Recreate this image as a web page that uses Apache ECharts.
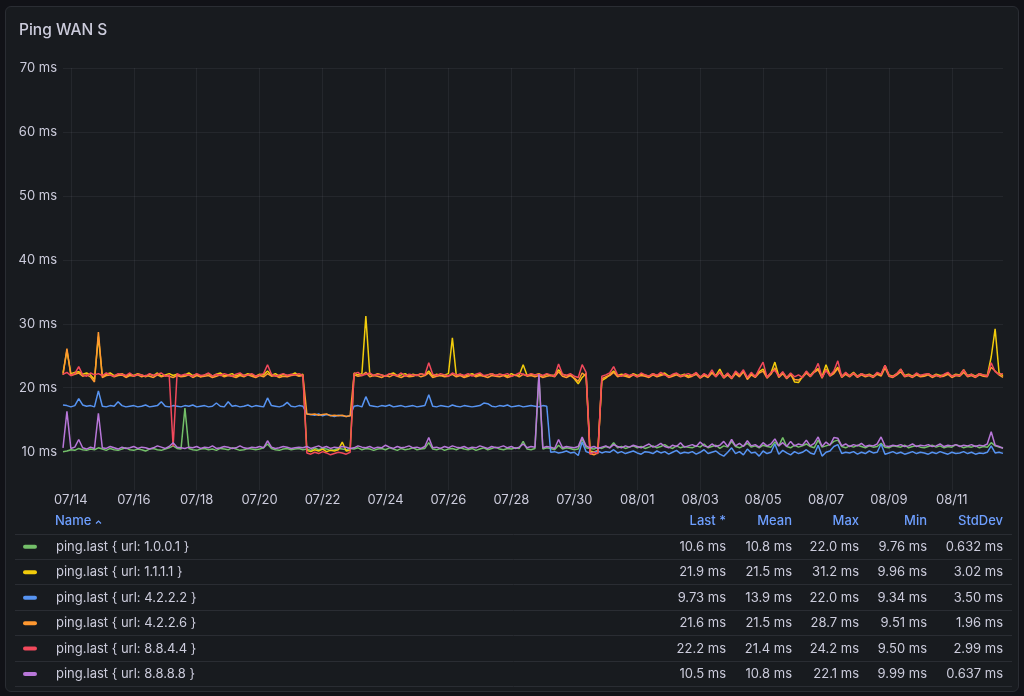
<!DOCTYPE html>
<html><head><meta charset="utf-8">
<script src="https://cdn.jsdelivr.net/npm/echarts@6/dist/echarts.min.js"></script>
<style>
html,body{margin:0;padding:0;background:#111217;width:1024px;height:696px;overflow:hidden;}
#panel{position:absolute;left:5px;top:6px;width:1012px;height:684px;background:#181b1f;border:1px solid #2a2d33;border-radius:6px;}
#chart{position:absolute;left:0;top:0;width:1024px;height:696px;}
</style></head><body><div id="panel"></div><div id="chart"></div>
<script>
// ---- data ----
const startDate = [2024, 6, 13, 18]; // 2024-07-13 18:00 local
const stepHours = 3;
const xTickLabels = ['07/14','07/16','07/18','07/20','07/22','07/24','07/26','07/28','07/30','08/01','08/03','08/05','08/07','08/09','08/11'];
const seriesNames = ['ping.last { url: 1.0.0.1 }','ping.last { url: 1.1.1.1 }','ping.last { url: 4.2.2.2 }','ping.last { url: 4.2.2.6 }','ping.last { url: 8.8.4.4 }','ping.last { url: 8.8.8.8 }'];
const seriesColors = ['#73BF69','#F2CC0C','#5794F2','#FF9830','#F2495C','#B877D9'];
const statHeaders = ['Last *','Mean','Max','Min','StdDev'];
const statLast = ['10.6 ms','21.9 ms','9.73 ms','21.6 ms','22.2 ms','10.5 ms'];
const statMean = ['10.8 ms','21.5 ms','13.9 ms','21.5 ms','21.4 ms','10.8 ms'];
const statMax  = ['22.0 ms','31.2 ms','22.0 ms','28.7 ms','24.2 ms','22.1 ms'];
const statMin  = ['9.76 ms','9.96 ms','9.34 ms','9.51 ms','9.50 ms','9.99 ms'];
const statStd  = ['0.632 ms','3.02 ms','3.50 ms','1.96 ms','2.99 ms','0.637 ms'];

const green = [
10.0,10.1,10.3,10.2,10.5,10.3,10.2,10.4,10.3,10.6,
10.4,10.2,10.5,10.3,10.2,10.4,10.6,10.3,10.2,10.4,
10.3,10.1,10.4,10.5,10.3,10.2,10.4,10.6,10.9,10.5,
10.4,16.8,10.5,10.3,10.2,10.4,10.5,10.3,10.4,10.2,
10.5,10.4,10.3,10.6,10.4,10.2,10.3,10.5,10.4,10.3,
10.4,10.6,11.2,10.5,10.3,10.2,10.4,10.5,10.3,10.4,
10.5,10.3,10.4,10.2,10.6,10.3,10.5,10.4,10.2,10.3,
10.5,10.4,10.3,10.5,10.4,10.6,10.3,10.5,10.4,10.2,
10.4,10.5,10.3,10.6,10.4,10.2,10.5,10.3,10.4,10.6,
10.3,10.4,10.5,11.4,10.4,10.3,10.5,10.2,10.4,10.5,
10.3,10.6,10.4,10.3,10.5,10.2,10.4,10.6,10.3,10.5,
10.7,10.4,10.3,10.5,10.4,10.6,10.5,11.6,10.4,10.3,
10.5,21.8,10.4,10.6,10.5,10.3,11.0,10.4,10.6,10.5,
10.3,10.4,12.0,10.6,10.5,10.4,10.7,10.5,10.8,10.6,
11.4,10.6,10.8,10.5,10.7,10.9,10.6,10.8,10.5,10.7,
10.9,10.6,10.8,11.1,10.7,10.5,10.9,10.6,10.8,10.7,
10.6,10.9,10.7,11.2,10.6,10.8,11.0,10.5,10.9,10.7,
11.6,10.8,10.6,10.9,11.3,10.7,10.9,10.6,11.0,10.8,
10.7,11.5,10.9,12.2,10.8,10.6,11.0,10.7,10.9,11.2,
10.8,10.6,11.8,10.7,10.9,11.1,11.6,11.8,10.8,10.6,
10.9,10.7,11.0,10.8,10.6,10.9,10.7,10.8,11.3,10.7,
10.6,10.9,10.8,10.7,11.0,10.6,10.8,10.9,10.7,10.6,
10.8,11.0,10.7,10.9,10.6,10.8,10.7,11.1,10.9,10.6,
10.8,10.7,10.9,10.6,10.8,10.7,11.4,10.9,10.7,10.6];

const yellow = [
22.3,25.8,22.2,22.4,22.5,22.1,22.3,22.0,21.3,28.0,
21.8,22.1,22.3,21.9,22.0,22.2,21.8,22.1,21.9,22.2,
22.0,21.7,22.1,21.9,22.3,21.8,22.0,22.2,21.9,22.1,
21.8,22.0,22.3,21.9,22.1,21.7,22.0,22.2,21.8,22.1,
22.3,21.9,22.0,22.2,21.8,22.1,21.9,22.2,22.0,21.8,
22.1,22.0,22.6,21.9,22.2,21.8,22.1,21.9,22.0,22.3,
21.9,22.1,10.2,10.0,10.3,10.1,10.4,10.0,10.2,10.1,
10.3,11.5,10.1,10.2,22.3,22.0,22.2,31.2,22.1,21.9,
22.2,22.0,21.8,22.1,22.3,21.9,22.0,22.2,21.8,22.1,
21.9,22.2,22.0,22.6,21.8,22.1,21.9,22.0,22.2,27.8,
21.9,22.1,21.8,22.0,22.2,21.9,22.1,21.8,22.0,22.2,
21.9,22.1,22.0,21.8,22.2,21.9,22.0,23.6,21.9,22.1,
22.0,22.2,21.8,22.1,21.9,22.0,22.8,22.1,21.9,22.0,
21.4,20.6,21.6,22.2,10.1,9.96,10.2,21.1,21.5,22.0,
22.6,21.9,22.1,22.0,21.8,22.2,21.9,22.1,22.0,21.8,
22.2,21.9,22.1,22.3,21.8,22.0,22.2,21.9,22.1,21.8,
22.0,22.3,21.7,22.1,21.8,22.4,21.9,22.9,21.7,22.2,
21.6,22.4,21.9,22.6,21.5,22.2,21.8,22.5,22.9,21.7,
22.3,24.0,21.8,22.4,21.6,22.2,20.9,20.8,21.7,22.5,
21.9,22.6,23.0,21.7,23.6,22.0,22.4,23.2,21.8,22.3,
21.9,22.4,21.8,22.2,21.9,22.1,21.8,22.3,22.0,23.5,
22.0,21.8,22.2,22.9,21.9,22.1,21.8,22.2,21.9,22.0,
22.2,21.8,22.1,21.9,22.0,22.3,21.8,22.1,22.0,22.8,
21.9,22.1,21.8,22.2,22.0,21.9,24.8,29.2,22.3,21.9];

const blue = [
17.3,17.2,17.0,17.2,18.3,17.3,17.1,17.2,17.0,19.5,
17.1,17.0,17.2,17.1,17.8,17.2,17.0,17.1,17.2,17.0,
17.1,17.3,17.0,17.1,17.2,17.8,17.1,17.0,17.2,17.1,
17.0,17.2,17.1,17.3,17.0,17.1,17.2,17.0,17.1,17.6,
17.1,17.0,17.8,17.1,17.2,17.0,17.1,17.3,17.0,17.2,
17.1,17.0,18.4,17.2,17.1,17.0,17.2,17.7,17.1,17.0,
17.2,17.1,15.9,15.8,15.7,15.9,15.6,15.8,15.7,15.5,
15.7,15.6,15.5,15.6,17.1,17.2,17.0,18.6,17.2,17.1,
17.0,17.2,17.1,17.3,17.0,17.1,17.2,17.0,17.1,17.2,
17.0,17.1,17.2,18.9,17.1,17.0,17.2,17.1,17.0,17.3,
17.1,17.0,17.2,17.1,17.0,17.1,17.2,17.6,17.5,17.1,
17.0,17.2,17.1,17.3,17.0,17.1,17.2,17.0,17.1,17.2,
17.1,17.0,17.2,17.1,9.9,10.0,9.8,9.9,10.1,9.8,
9.9,9.4,11.5,10.0,9.8,9.9,10.1,9.8,10.0,9.9,
10.3,9.8,10.0,9.7,9.9,10.1,9.8,9.6,10.0,9.9,
9.7,10.1,9.8,10.0,9.6,9.9,10.2,9.7,9.9,9.8,
10.0,9.6,9.9,10.3,9.7,9.9,10.1,9.6,9.3,9.9,
10.6,9.7,10.0,9.5,10.4,9.8,9.9,9.3,10.1,9.7,
9.9,11.2,9.6,10.2,9.8,9.5,10.0,9.7,9.9,10.3,
9.8,9.6,11.0,9.3,9.9,10.1,10.8,11.1,9.7,9.9,
9.8,10.0,9.6,9.9,9.7,10.1,9.8,9.9,11.2,9.6,
9.8,10.0,9.7,9.9,9.6,9.8,10.0,9.7,9.9,9.8,
9.6,9.9,9.7,10.0,9.8,9.6,9.9,9.7,9.8,10.0,
9.7,9.9,9.6,9.8,9.7,9.9,10.9,9.8,9.9,9.73];

const orange = [
22.0,26.1,21.9,22.1,22.3,21.8,22.0,21.7,20.9,28.7,
21.6,21.9,22.0,21.7,21.9,22.0,21.6,21.9,21.8,22.0,
21.7,21.9,21.8,21.6,22.0,21.7,21.9,21.8,21.6,21.9,
21.7,21.8,22.0,21.6,21.9,21.7,21.8,21.9,21.6,21.8,
22.0,21.7,21.9,21.8,21.6,21.9,21.7,22.0,21.8,21.6,
21.9,21.7,22.2,21.8,21.9,21.6,21.8,21.7,21.9,22.0,
21.8,21.9,15.9,15.8,15.9,15.7,15.8,15.9,15.6,15.7,
15.6,15.7,15.5,15.6,22.0,21.8,21.9,22.4,21.7,21.9,
21.8,21.6,21.9,21.7,22.0,21.8,21.6,21.9,21.7,21.8,
22.0,21.7,21.9,22.3,21.6,21.8,21.9,21.7,21.8,22.1,
21.7,21.9,21.6,21.8,22.0,21.7,21.9,21.8,21.6,21.9,
21.8,21.7,21.9,21.6,21.8,22.0,21.7,22.1,21.8,21.9,
21.7,21.9,21.6,21.8,21.9,21.7,22.5,21.8,21.6,21.9,
21.5,21.0,22.3,21.8,9.7,9.51,9.8,21.4,21.7,21.9,
22.4,21.7,21.9,21.8,21.6,22.0,21.7,21.9,21.8,21.6,
22.0,21.7,21.9,22.1,21.6,21.8,22.0,21.7,21.9,21.6,
21.8,22.1,21.5,21.9,21.6,22.3,21.7,22.4,21.5,22.0,
21.4,22.2,21.7,22.5,21.3,22.0,21.6,22.3,22.6,21.5,
22.1,23.1,21.6,22.2,21.4,22.0,21.3,21.2,21.6,22.3,
21.7,22.4,22.8,21.5,22.9,21.8,22.2,23.0,21.6,22.1,
21.7,22.2,21.6,22.0,21.7,21.9,21.6,22.1,21.8,23.1,
21.8,21.6,22.0,22.5,21.7,21.9,21.6,22.0,21.7,21.8,
22.0,21.6,21.9,21.7,21.8,22.1,21.6,21.9,21.8,22.4,
21.7,21.9,21.6,22.0,21.8,21.7,23.2,22.6,22.0,21.6];

const red = [
22.1,22.4,21.9,22.2,23.3,22.0,21.8,22.3,22.0,22.2,
21.9,22.3,22.0,21.8,22.2,22.1,21.9,22.3,21.8,22.1,
22.0,21.8,22.2,21.9,22.1,22.3,21.8,22.0,10.8,22.2,
21.9,22.1,22.0,21.8,22.2,21.9,22.0,22.3,21.8,22.1,
21.9,22.2,22.0,21.8,22.1,22.3,21.9,22.0,22.2,21.8,
22.0,22.2,23.6,22.1,21.8,22.0,22.2,21.9,22.1,22.0,
22.2,21.9,9.8,9.6,9.9,9.7,10.0,9.8,9.5,9.7,
9.9,9.8,9.6,9.9,22.2,22.4,21.9,22.1,22.3,21.9,
22.1,22.0,21.8,22.2,22.0,21.9,22.3,21.8,22.1,22.0,
21.9,22.2,22.0,23.9,22.1,21.9,22.2,22.0,21.8,22.3,
22.0,22.1,21.9,22.2,21.8,22.1,22.3,21.9,22.0,22.2,
21.9,22.1,22.0,22.2,21.8,22.0,22.3,22.1,21.9,22.2,
22.0,22.1,21.9,22.2,22.0,21.8,23.7,22.1,21.9,22.2,
21.8,21.6,23.6,22.4,9.6,9.9,9.7,21.8,22.0,22.3,
23.3,22.0,21.8,22.2,21.9,22.1,21.7,22.3,22.0,21.8,
22.2,21.9,22.4,22.0,21.7,22.1,22.3,21.8,22.0,22.2,
21.9,22.4,21.6,22.2,21.8,22.8,21.7,22.5,21.6,22.3,
21.5,22.6,22.0,22.8,21.6,22.4,21.7,22.9,24.0,21.6,
22.4,22.7,21.8,22.5,21.5,22.3,21.7,22.0,21.6,22.6,
21.8,22.5,23.8,21.6,22.7,21.9,22.6,24.2,21.7,22.4,
21.8,22.3,21.7,22.2,21.9,22.0,21.7,22.4,22.1,23.5,
21.9,21.7,22.2,22.9,21.8,22.0,21.7,22.3,21.9,22.1,
22.2,21.8,22.0,21.7,22.1,22.4,21.8,22.0,21.9,22.8,
21.8,22.1,21.7,22.2,22.0,21.8,23.9,22.5,22.1,22.2];

const purple = [
10.6,16.3,10.5,10.7,11.9,10.6,10.4,10.7,10.5,16.0,
10.6,10.5,10.8,10.6,10.4,10.7,10.5,10.6,10.8,10.5,
10.7,10.6,10.4,10.6,10.9,10.7,10.5,10.8,11.4,10.7,
10.6,10.5,10.7,10.6,10.8,10.5,10.7,10.6,10.9,10.5,
10.6,10.8,10.7,10.5,10.6,10.9,10.6,10.5,10.7,10.6,
10.8,10.6,11.7,10.7,10.5,10.6,10.8,10.7,10.5,10.6,
10.7,10.6,10.8,10.5,10.7,10.9,10.6,10.8,10.5,10.7,
10.6,10.8,10.7,10.5,10.6,10.9,10.7,10.6,10.8,10.5,
10.7,10.6,11.0,10.7,10.5,10.8,10.6,10.7,10.9,10.6,
10.7,10.5,10.8,12.2,10.6,10.7,10.5,10.8,10.6,10.9,
10.7,10.6,10.8,10.5,10.7,10.6,10.9,10.7,10.5,10.8,
10.6,10.7,10.9,10.6,10.8,10.5,10.7,11.2,10.6,10.8,
10.7,22.1,10.6,10.8,10.7,10.5,11.9,10.6,10.8,10.7,
10.6,10.8,12.3,10.9,10.6,10.8,10.5,10.7,10.9,10.6,
11.1,10.8,10.6,10.9,10.7,11.0,10.8,10.6,10.9,11.2,
10.7,10.9,11.3,10.8,10.6,11.0,10.8,11.4,10.7,10.9,
11.1,10.8,11.5,10.9,10.7,11.2,10.8,11.0,11.6,10.8,
11.9,10.9,11.3,10.8,11.7,10.9,11.1,10.7,11.4,10.9,
11.2,12.0,10.9,11.4,10.8,11.6,10.9,11.2,11.0,11.8,
10.9,11.3,12.3,10.8,11.5,11.0,12.2,12.1,10.9,11.2,
10.8,11.1,10.9,11.3,10.8,11.0,10.9,11.2,12.3,10.9,
10.8,11.0,10.9,11.1,10.8,10.9,11.2,10.8,11.0,10.9,
11.1,10.8,10.9,11.2,10.8,11.0,10.9,11.1,10.8,11.0,
10.9,11.1,10.8,11.0,10.9,11.2,13.1,11.0,10.8,10.5];

const seriesValues = [green, yellow, blue, orange, red, purple];

// ---- build ----
const FONT = 'Inter, "Noto Sans", sans-serif';
const TXT = '#ccccdc';
const BLUE_TXT = '#6e9fff';
const FS = 13;
const start = new Date(startDate[0], startDate[1], startDate[2], startDate[3]).getTime();
const HOUR = 3600 * 1000;
const times = green.map((_, i) => start + i * stepHours * HOUR);
const tickTimes = xTickLabels.map(s => {
  const [m, d] = s.split('/').map(Number);
  return new Date(2024, m - 1, d).getTime();
});
const pad = n => (n < 10 ? '0' : '') + n;

const series = seriesValues.map((vals, k) => ({
  name: seriesNames[k],
  type: 'line',
  showSymbol: false,
  symbol: 'none',
  data: vals.map((v, i) => [times[i], v]),
  lineStyle: { width: 1.5, color: seriesColors[k] },
  itemStyle: { color: seriesColors[k] },
  emphasis: { disabled: true },
  silent: true
}));

// legend table graphic
const colRight = [726, 792, 859, 927, 1003];
const headerY = 521;
const rowY0 = 546.8, rowH = 25.45;
const sepY0 = 533.5;
const graphics = [];
graphics.push({ type: 'text', x: 55, y: headerY, style: { text: 'Name', fill: BLUE_TXT, font: '500 ' + FS + 'px ' + FONT, textAlign: 'left', textVerticalAlign: 'middle', verticalAlign: 'middle' } });
graphics.push({ type: 'polyline', shape: { points: [[96, 523.5], [98.5, 521], [101, 523.5]] }, style: { stroke: BLUE_TXT, lineWidth: 1.2, fill: null } });
statHeaders.forEach((h, c) => {
  graphics.push({ type: 'text', x: colRight[c], y: headerY, style: { text: h, fill: BLUE_TXT, font: '500 ' + FS + 'px ' + FONT, textAlign: 'right', textVerticalAlign: 'middle', verticalAlign: 'middle' } });
});
for (let k = 0; k <= seriesNames.length; k++) {
  const y = Math.round(sepY0 + k * rowH) + 0.5;
  graphics.push({ type: 'line', shape: { x1: 15, y1: y, x2: 1012, y2: y }, style: { stroke: '#2a2d33', lineWidth: 1 } });
}
const statCols = [statLast, statMean, statMax, statMin, statStd];
seriesNames.forEach((name, k) => {
  const y = rowY0 + k * rowH;
  graphics.push({ type: 'rect', shape: { x: 23, y: y - 2, width: 14, height: 4, r: 2 }, style: { fill: seriesColors[k] } });
  graphics.push({ type: 'text', x: 56, y: y, style: { text: name, fill: TXT, font: FS + 'px ' + FONT, textAlign: 'left', textVerticalAlign: 'middle', verticalAlign: 'middle' } });
  statCols.forEach((col, c) => {
    graphics.push({ type: 'text', x: colRight[c], y: y, style: { text: col[k], fill: TXT, font: FS + 'px ' + FONT, textAlign: 'right', textVerticalAlign: 'middle', verticalAlign: 'middle' } });
  });
});

const chart = echarts.init(document.getElementById('chart'), null, { renderer: 'canvas' });
chart.setOption({
  backgroundColor: 'transparent',
  animation: false,
  title: { text: 'Ping WAN S', left: 19, top: 22, padding: 0, textStyle: { color: TXT, fontSize: 15.5, fontWeight: 500, fontFamily: FONT } },
  grid: { left: 63, right: 21, top: 68, bottom: 206, containLabel: false },
  xAxis: {
    type: 'value', min: times[0], max: times[times.length - 1],
    axisLine: { show: false },
    axisTick: { show: false, customValues: tickTimes },
    axisLabel: {
      customValues: tickTimes, color: TXT, fontSize: FS, fontFamily: FONT, margin: 4,
      formatter: v => { const d = new Date(v); return pad(d.getMonth() + 1) + '/' + pad(d.getDate()); }
    },
    splitLine: { show: true, lineStyle: { color: 'rgba(204,204,220,0.07)', width: 1 } }
  },
  yAxis: {
    type: 'value', min: 4, max: 70, splitNumber: 6,
    axisLine: { show: false }, axisTick: { show: false },
    axisLabel: { formatter: '{value} ms', showMinLabel: false, color: TXT, fontSize: FS, fontFamily: FONT, margin: 6 },
    splitLine: { show: true, showMinLine: false, lineStyle: { color: 'rgba(204,204,220,0.07)', width: 1 } }
  },
  series: series,
  graphic: { elements: graphics }
});
</script></body></html>
